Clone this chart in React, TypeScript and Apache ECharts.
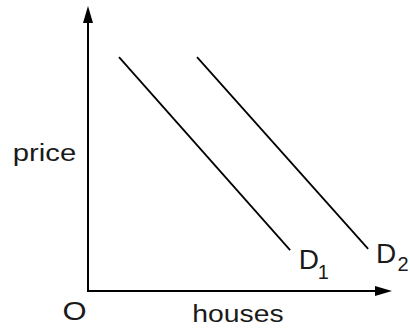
import React, { useEffect, useRef } from "react";
import * as echarts from "echarts";

// Axis ranges (abstract units, no ticks shown)
const xRange = [0, 100];
const yRange = [0, 100];

// Demand curve D1: start and end points
const d1X = [10.5, 68.4];
const d1Y = [84.6, 14.8];
// Demand curve D2: start and end points
const d2X = [36.9, 94.8];
const d2Y = [84.6, 15.2];

const curveMain = ["D", "D"];
const curveSubs = ["1", "2"];
const xName = "houses";
const yName = "price";
const originLabel = "O";

export default function App() {
  const ref = useRef<HTMLDivElement>(null);
  useEffect(() => {
    const chart = echarts.init(ref.current!, null, { renderer: "svg" });
    const font = '"Liberation Sans", Arial, Helvetica, sans-serif';
    const ink = "#1a1a1a";
    const axisCommon = {
      type: "value",
      axisLine: {
        show: true,
        symbol: ["none", "triangle"],
        symbolSize: [10, 17],
        lineStyle: { color: "#000", width: 2, cap: "square" },
      },
      axisTick: { show: false },
      axisLabel: { show: false },
      splitLine: { show: false },
    };
    const lineSeries = (name: string, xs: number[], ys: number[]) => ({
      name,
      type: "line",
      data: xs.map((x, i) => [x, ys[i]]),
      symbol: "none",
      lineStyle: { color: "#000", width: 1.8 },
      silent: true,
    });
    const txt = (text: string, x: number, y: number, size: number, sx: number, align = "center") => ({
      type: "text",
      x,
      y,
      scaleX: sx,
      silent: true,
      style: {
        text,
        x: 0,
        y: 0,
        fill: ink,
        fontSize: size,
        fontFamily: font,
        align,
        verticalAlign: "middle",
      },
    });
    chart.setOption({
      animation: false,
      grid: { left: 88, top: 14.5, right: 26.5, bottom: 40 },
      xAxis: { ...axisCommon, min: xRange[0], max: xRange[1] },
      yAxis: { ...axisCommon, min: yRange[0], max: yRange[1] },
      series: [
        lineSeries("D1", d1X, d1Y),
        lineSeries("D2", d2X, d2Y),
      ],
      graphic: [
        txt(yName, 44.5, 152.7, 24, 1.22),
        txt(xName, 238, 313.7, 24, 1.18),
        txt(originLabel, 74.5, 310.5, 26, 1.19),
        txt(curveMain[0], 298.8, 259.6, 28, 1, "left"),
        txt(curveSubs[0], 317.8, 271.8, 20, 1, "left"),
        txt(curveMain[1], 376.1, 253, 28, 1, "left"),
        txt(curveSubs[1], 397.4, 264.1, 20, 1, "left"),
      ],
    });
    return () => chart.dispose();
  }, []);
  return (
    <div
      ref={ref}
      style={{ position: "absolute", left: 0, top: 0, width: 410, height: 331, background: "#fff" }}
    />
  );
}
